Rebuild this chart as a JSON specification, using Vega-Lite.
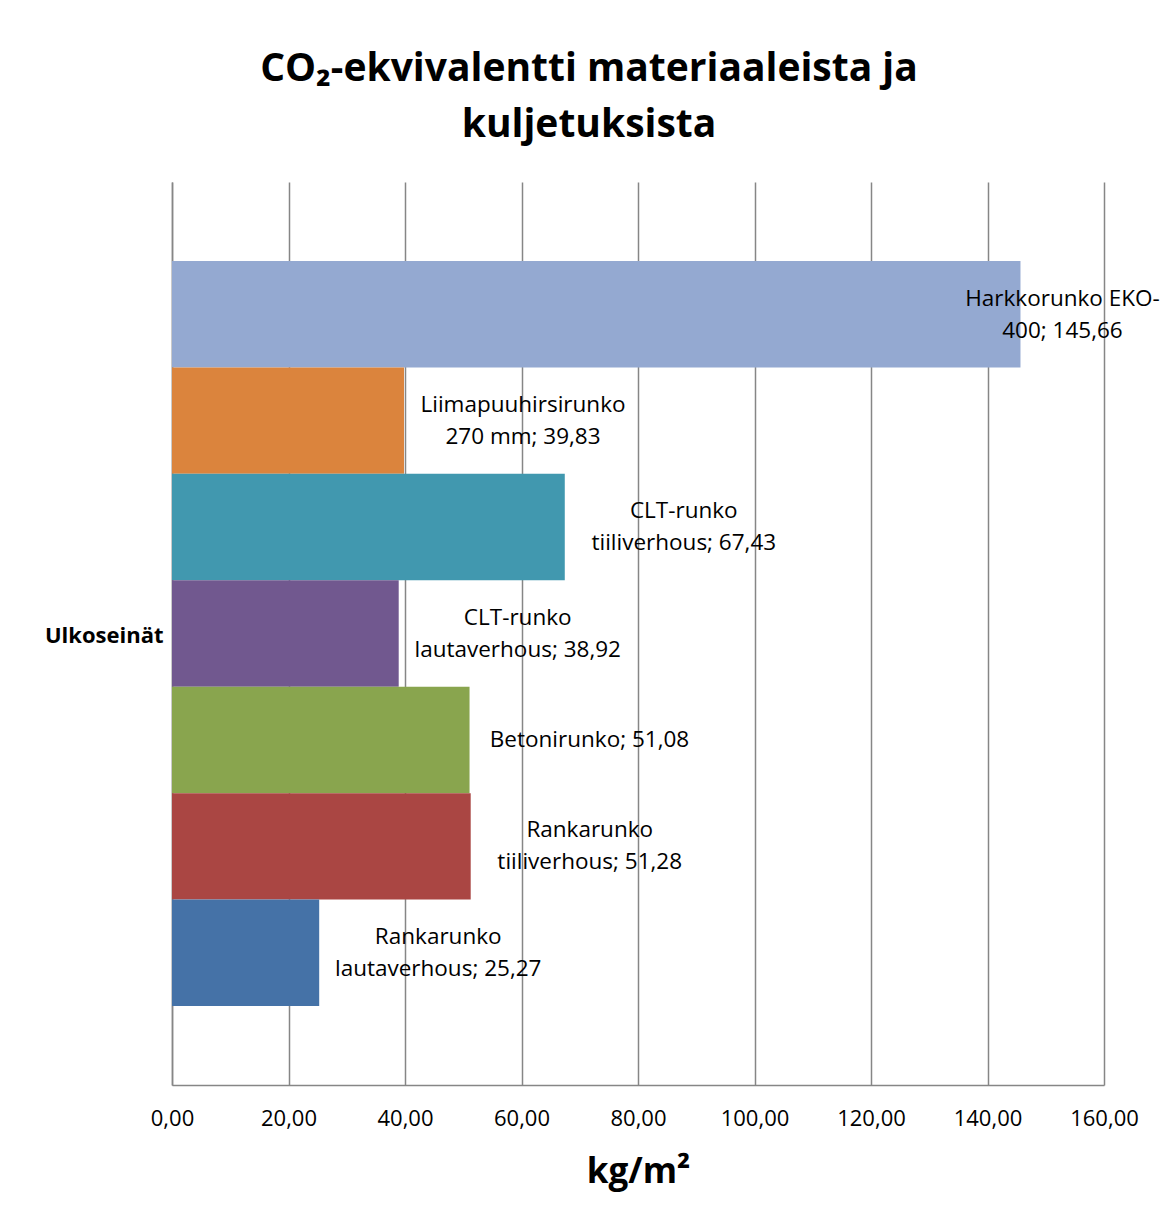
{
  "$schema": "https://vega.github.io/schema/vega-lite/v6.json",
  "width": 932,
  "height": 903,
  "autosize": {"type": "none"},
  "padding": {"left": 172, "top": 182, "right": 57, "bottom": 136},
  "background": "white",
  "config": {
    "view": {"stroke": null},
    "font": "Open Sans",
    "axis": {"labelFont": "Open Sans", "titleFont": "Open Sans"}
  },
  "title": {
    "text": ["CO₂-ekvivalentti materiaaleista ja", "kuljetuksista"],
    "font": "Open Sans",
    "fontSize": 39,
    "fontWeight": "bold",
    "color": "black",
    "anchor": "middle",
    "frame": "group",
    "dx": -49,
    "offset": 37,
    "lineHeight": 56
  },
  "data": {
    "values": [
      {"group": "Ulkoseinät", "series": "Harkkorunko EKO-400", "value": 145.66, "label": "Harkkorunko EKO-\n400; 145,66", "lines": 2},
      {"group": "Ulkoseinät", "series": "Liimapuuhirsirunko 270 mm", "value": 39.83, "label": "Liimapuuhirsirunko\n270 mm; 39,83", "lines": 2},
      {"group": "Ulkoseinät", "series": "CLT-runko tiiliverhous", "value": 67.43, "label": "CLT-runko\ntiiliverhous; 67,43", "lines": 2},
      {"group": "Ulkoseinät", "series": "CLT-runko lautaverhous", "value": 38.92, "label": "CLT-runko\nlautaverhous; 38,92", "lines": 2},
      {"group": "Ulkoseinät", "series": "Betonirunko", "value": 51.08, "label": "Betonirunko; 51,08", "lines": 1},
      {"group": "Ulkoseinät", "series": "Rankarunko tiiliverhous", "value": 51.28, "label": "Rankarunko\ntiiliverhous; 51,28", "lines": 2},
      {"group": "Ulkoseinät", "series": "Rankarunko lautaverhous", "value": 25.27, "label": "Rankarunko\nlautaverhous; 25,27", "lines": 2}
    ]
  },
  "encoding": {
    "y": {
      "field": "group",
      "type": "nominal",
      "scale": {"paddingInner": 0, "paddingOuter": 0.106},
      "axis": {
        "title": null,
        "labelFontSize": 22,
        "labelFontWeight": "bold",
        "labelColor": "black",
        "labelPadding": 9,
        "labelOffset": 2,
        "ticks": false,
        "domainColor": "#868686",
        "domainWidth": 1.5
      }
    },
    "yOffset": {
      "field": "series",
      "type": "nominal",
      "sort": ["Harkkorunko EKO-400", "Liimapuuhirsirunko 270 mm", "CLT-runko tiiliverhous", "CLT-runko lautaverhous", "Betonirunko", "Rankarunko tiiliverhous", "Rankarunko lautaverhous"],
      "scale": {"paddingInner": 0, "paddingOuter": 0}
    },
    "x": {
      "field": "value",
      "type": "quantitative",
      "scale": {"domain": [0, 160], "nice": false},
      "axis": {
        "values": [0, 20, 40, 60, 80, 100, 120, 140, 160],
        "labelExpr": "replace(format(datum.value, '.2f'), '.', ',')",
        "labelFontSize": 22,
        "labelColor": "black",
        "labelPadding": 23,
        "labelFlush": false,
        "labelOverlap": false,
        "ticks": false,
        "grid": true,
        "gridColor": "#868686",
        "gridWidth": 1.5,
        "domainColor": "#868686",
        "domainWidth": 1.5,
        "title": "kg/m²",
        "titleFontSize": 35,
        "titleFontWeight": "bold",
        "titleColor": "black",
        "titlePadding": 25
      }
    }
  },
  "layer": [
    {
      "mark": {"type": "bar"},
      "encoding": {
        "color": {
          "field": "series",
          "type": "nominal",
          "scale": {
            "domain": ["Harkkorunko EKO-400", "Liimapuuhirsirunko 270 mm", "CLT-runko tiiliverhous", "CLT-runko lautaverhous", "Betonirunko", "Rankarunko tiiliverhous", "Rankarunko lautaverhous"],
            "range": ["#94A9D1", "#DB843D", "#4198AF", "#71588F", "#89A54E", "#AA4643", "#4572A7"]
          },
          "legend": null
        }
      }
    },
    {
      "transform": [{"filter": "datum.value < 100 && datum.lines == 2"}],
      "mark": {"type": "text", "align": "center", "baseline": "middle", "dx": 119, "dy": -16, "fontSize": 22.5, "lineHeight": 32, "lineBreak": "\n", "color": "black"},
      "encoding": {"text": {"field": "label"}}
    },
    {
      "transform": [{"filter": "datum.lines == 1"}],
      "mark": {"type": "text", "align": "center", "baseline": "middle", "dx": 120, "fontSize": 22.5, "lineHeight": 32, "lineBreak": "\n", "color": "black"},
      "encoding": {"text": {"field": "label"}}
    },
    {
      "transform": [{"filter": "datum.value >= 100"}],
      "mark": {"type": "text", "align": "center", "baseline": "middle", "dx": 42, "dy": -15, "fontSize": 22.5, "lineHeight": 32, "lineBreak": "\n", "color": "black"},
      "encoding": {"text": {"field": "label"}}
    }
  ]
}
